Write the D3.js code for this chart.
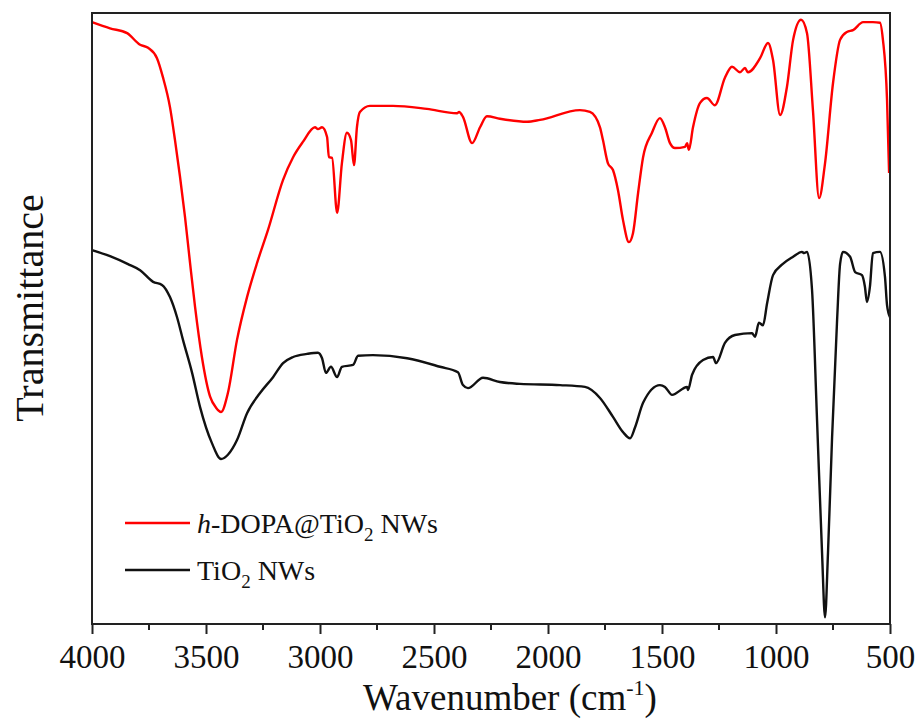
<!DOCTYPE html>
<html>
<head>
<meta charset="utf-8">
<script src="https://cdn.jsdelivr.net/npm/d3@7"></script>
<style>
  body { margin: 0; background: #fff; }
  text { font-family: "Liberation Serif", "Times New Roman", serif; fill: #111; }
</style>
</head>
<body>
<div id="chart"></div>
<script>
// wavenumber (cm-1) and transmittance (a.u.)
var dopaWave = [4000,3921,3846,3789,3754,3715,3689,3658,3636,3614,3592,3570,3548,3518,3482,3456,3434,3404,3364,3320,3276,3228,3162,3118,3075,3022,3009,2991,2969,2961,2947,2925,2904,2882,2864,2851,2838,2825,2781,2680,2531,2399,2390,2373,2333,2298,2268,2211,2092,2035,1860,1816,1772,1759,1737,1715,1693,1671,1645,1627,1605,1583,1544,1509,1487,1465,1443,1399,1390,1382,1364,1333,1303,1268,1224,1193,1158,1136,1123,1070,1035,1013,982,952,925,890,864,838,811,785,750,719,689,662,618,575,544,531,513,504];
var dopaT = [98.5,97.5,96.7,94.8,94.3,92.6,89.5,84.6,79.2,73.2,66.6,59.1,51.9,43.7,37.2,35.4,34.7,37.8,46.5,53.5,59.1,64.5,72.7,76.4,78.9,81.3,81.0,81.3,79.7,76.4,76.3,67.3,75.4,80.4,79.2,75.1,81.3,83.8,84.8,84.8,84.3,83.6,83.8,83.0,78.7,81.3,83.1,82.7,82.2,82.5,84.1,83.8,81.3,79.2,75.4,74.3,71.0,66.1,62.5,64.0,70.5,76.4,80.4,82.8,81.3,78.7,77.9,78.1,78.7,77.6,81.3,85.3,86.1,84.9,89.4,91.2,90.3,91.0,90.3,92.6,95.1,92.3,83.3,87.9,95.6,98.9,96.7,84.1,69.7,75.4,88.5,95.6,96.9,97.2,98.5,98.5,98.4,95.6,85.8,73.8];

var tioWave = [4000,3921,3842,3789,3732,3693,3658,3627,3601,3561,3526,3474,3434,3404,3364,3320,3263,3206,3162,3118,3057,3009,2991,2974,2952,2925,2904,2855,2833,2768,2618,2474,2395,2373,2351,2285,2211,2123,1947,1838,1772,1715,1671,1640,1618,1583,1509,1487,1456,1390,1386,1368,1320,1276,1263,1224,1180,1105,1092,1075,1057,1039,1013,974,925,886,877,864,842,820,798,785,772,754,732,719,706,675,653,623,610,601,588,575,544,522,513,500];
var tioT = [61.2,60.2,58.9,57.9,56.0,55.5,53.5,50.2,46.5,41.1,35.5,29.6,27.0,27.7,30.1,34.5,37.8,40.4,42.7,43.7,44.2,44.4,43.5,41.1,42.1,40.4,42.1,42.4,43.9,44.0,43.5,42.1,41.2,39.1,38.6,40.3,39.6,39.3,39.1,38.8,37.0,33.9,31.4,30.4,32.2,36.2,39.1,38.8,37.5,38.8,38.3,40.8,43.2,43.7,42.7,46.0,47.3,47.6,47.0,49.3,48.9,52.5,57.1,58.8,60.1,60.9,60.7,60.9,54.7,33.4,11.6,1.1,11.6,30.6,49.8,58.9,60.9,60.1,57.6,57.1,55.2,52.7,55.2,60.7,60.9,56.8,52.2,50.2];

var majorTicks = [4000,3500,3000,2500,2000,1500,1000,500];
var minorTicks = [3750,3250,2750,2250,1750,1250,750];

var width = 921, height = 722,
    plotLeft = 92, plotRight = 890, plotTop = 13, plotBottom = 624;

var svg = d3.select('#chart')
    .append('svg')
    .attr('width', width)
    .attr('height', height);

var x = d3.scaleLinear().domain([4000, 500]).range([plotLeft, plotRight]);
var y = d3.scaleLinear().domain([0, 100]).range([plotBottom, plotTop]);

var line = d3.line()
    .x(function(d){ return x(d[0]); })
    .y(function(d){ return y(d[1]); })
    .curve(d3.curveMonotoneX);

function zip(a, b){ return a.map(function(v, i){ return [v, b[i]]; }); }

svg.append('path')
    .datum(zip(tioWave, tioT))
    .attr('d', line)
    .attr('fill', 'none')
    .attr('stroke', '#111')
    .attr('stroke-width', 2.4);

svg.append('path')
    .datum(zip(dopaWave, dopaT))
    .attr('d', line)
    .attr('fill', 'none')
    .attr('stroke', '#f00')
    .attr('stroke-width', 2.4);

// frame
svg.append('rect')
    .attr('x', plotLeft).attr('y', plotTop)
    .attr('width', plotRight - plotLeft).attr('height', plotBottom - plotTop)
    .attr('fill', 'none')
    .attr('stroke', '#222')
    .attr('stroke-width', 2);

// bottom axis
var axis = svg.append('g')
    .attr('transform', 'translate(0,' + plotBottom + ')')
    .call(d3.axisBottom(x).tickValues(majorTicks).tickFormat(d3.format('d')).tickSize(10).tickSizeOuter(0));
axis.select('.domain').remove();
axis.selectAll('line').attr('stroke', '#222').attr('stroke-width', 2);
axis.selectAll('text')
    .attr('y', 44).attr('dy', 0)
    .style('font-size', '33px')
    .attr('fill', '#111');

svg.append('g')
    .selectAll('line')
    .data(minorTicks)
    .enter()
    .append('line')
    .attr('x1', function(d){ return x(d); })
    .attr('x2', function(d){ return x(d); })
    .attr('y1', plotBottom).attr('y2', plotBottom + 6)
    .attr('stroke', '#222').attr('stroke-width', 2);

// axis titles
var xTitle = svg.append('text')
    .attr('x', 510).attr('y', 710)
    .attr('text-anchor', 'middle')
    .style('font-size', '37px');
xTitle.append('tspan').text('Wavenumber (cm');
xTitle.append('tspan').attr('dy', -15).style('font-size', '22px').text('-1');
xTitle.append('tspan').attr('dy', 15).text(')');

svg.append('text')
    .attr('transform', 'translate(43,308) rotate(-90)')
    .attr('text-anchor', 'middle')
    .style('font-size', '40px')
    .text('Transmittance');

// legend
var legend = svg.append('g');
legend.append('line')
    .attr('x1', 125).attr('x2', 190).attr('y1', 523).attr('y2', 523)
    .attr('stroke', '#f00').attr('stroke-width', 2.4);
legend.append('line')
    .attr('x1', 125).attr('x2', 190).attr('y1', 570).attr('y2', 570)
    .attr('stroke', '#111').attr('stroke-width', 2.4);

var l1 = legend.append('text').attr('x', 197).attr('y', 533).style('font-size', '28px');
l1.append('tspan').style('font-style', 'italic').text('h');
l1.append('tspan').text('-DOPA@TiO');
l1.append('tspan').attr('dy', 8).style('font-size', '19px').text('2');
l1.append('tspan').attr('dy', -8).text(' NWs');

var l2 = legend.append('text').attr('x', 197).attr('y', 580).style('font-size', '28px');
l2.append('tspan').text('TiO');
l2.append('tspan').attr('dy', 8).style('font-size', '19px').text('2');
l2.append('tspan').attr('dy', -8).text(' NWs');
</script>
</body>
</html>
